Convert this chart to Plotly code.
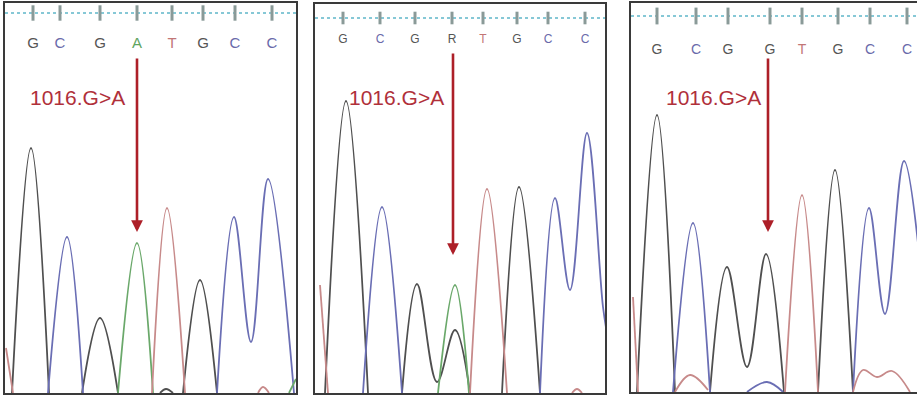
import plotly.graph_objects as go

W, H = 917, 397

# ---------------- data (scan position, signal) ----------------
# Panel 1 : homozygous reference shows A
p1_bases = ["G", "C", "G", "A", "T", "G", "C", "C"]
p1_base_pos = [28, 55, 95, 132, 167, 198, 230, 267]
p1_G_x = [7, 26, 44, None, 77, 95, 113, None, 178, 195, 212, None, 155, 161, 168]
p1_G_y = [0, 245, 0, None, 0, 75, 0, None, 0, 113, 0, None, 0, 4, 0]
p1_C_x = [43, 62, 78, None, 212, 229, 246, 263, 289]
p1_C_y = [0, 156, 0, None, 0, 176, 51, 214, 0]
p1_A_x = [113, 132, 148, None, 284, 291]
p1_A_y = [0, 150, 0, None, 0, 14]
p1_T_x = [1, 8, None, 147, 162, 180, None, 253, 258, 264]
p1_T_y = [45, 0, None, 0, 185, 0, None, 0, 6, 0]

# Panel 2 : heterozygous (R)
p2_bases = ["G", "C", "G", "R", "T", "G", "C", "C"]
p2_base_pos = [28, 65, 100, 137, 168, 202, 233, 270]
p2_G_x = [10, 31, 53, None, 87, 102, 122, 140, 155, None, 187, 204, 225]
p2_G_y = [0, 292, 0, None, 0, 109, 11, 63, 0, None, 0, 206, 0]
p2_C_x = [48, 67, 87, None, 225, 240, 255, 272, 288, 292]
p2_C_y = [0, 186, 0, None, 0, 195, 103, 260, 86, 60]
p2_A_x = [123, 140, 154]
p2_A_y = [0, 108, 0]
p2_T_x = [5, 13, None, 155, 172, 192, None, 257, 262, 267]
p2_T_y = [108, 0, None, 0, 204, 0, None, 0, 4, 0]

# Panel 3 : homozygous G
p3_bases = ["G", "C", "G", "G", "T", "G", "C", "C"]
p3_base_pos = [26, 65, 97, 139, 171, 207, 239, 276]
p3_G_x = [6, 26, 44, None, 79, 96, 116, 135, 153, None, 187, 204, 222]
p3_G_y = [0, 277, 0, None, 0, 125, 25, 138, 0, None, 0, 222, 0]
p3_C_x = [42, 62, 79, None, 222, 238, 254, 273, 290, None, 116, 136, 152]
p3_C_y = [0, 169, 0, None, 0, 184, 78, 231, 120, None, 0, 10, 0]
p3_T_x = [2, 7, None, 154, 171, 187, None, 44, 59, 77, None, 222, 232, 246, 261, 279]
p3_T_y = [95, 0, None, 0, 197, 0, None, 0, 17, 2, None, 0, 22, 15, 21, 0]

mutation_label = "1016.G>A"
mut_pos = [132, 138, 137]

# ---------------- styling ----------------
DYE = {"G": "#4f4f4f", "C": "#6a6eb4", "A": "#6aa86a", "T": "#c78a8a"}
LETTER = {"G": "#555555", "C": "#6a6aaa", "A": "#5fa55f", "T": "#c27676", "R": "#555555"}

# panel frames in pixels: left, right, top, bottom
frames = [(5, 296, 3, 393), (315, 605, 4, 393), (631, 917, 3, 392)]
letter_row = [44, 40, 50]
dot_row = [13, 18, 16]
tick_size = [11, 9, 12]
letter_size = [15, 12, 14]
arrow_top = [57, 52, 57]
arrow_tip = [232, 255, 232]
label_y = [97, 97, 97]
label_cx = [72, 81, 82]

panels = [
    dict(bases=p1_bases, pos=p1_base_pos,
         traces=[("G", p1_G_x, p1_G_y), ("C", p1_C_x, p1_C_y), ("A", p1_A_x, p1_A_y), ("T", p1_T_x, p1_T_y)]),
    dict(bases=p2_bases, pos=p2_base_pos,
         traces=[("G", p2_G_x, p2_G_y), ("C", p2_C_x, p2_C_y), ("A", p2_A_x, p2_A_y), ("T", p2_T_x, p2_T_y)]),
    dict(bases=p3_bases, pos=p3_base_pos,
         traces=[("G", p3_G_x, p3_G_y), ("C", p3_C_x, p3_C_y), ("T", p3_T_x, p3_T_y)]),
]

fig = go.Figure()
layout = dict(width=W, height=H, margin=dict(l=0, r=0, t=0, b=0),
              paper_bgcolor="white", plot_bgcolor="white", showlegend=False)
annotations = []

for i, (p, fr) in enumerate(zip(panels, frames)):
    L, R, T, B = fr
    n = "" if i == 0 else str(i + 1)
    xa, ya = "x" + n, "y" + n
    hgt = B - T
    # traces
    for dye, xs, ys in p["traces"]:
        fig.add_trace(go.Scatter(x=xs, y=ys, mode="lines", xaxis=xa, yaxis=ya,
                                 line=dict(color=DYE[dye], width=1.8, shape="spline", smoothing=1.05),
                                 connectgaps=False, hoverinfo="skip"))
    # dotted scan line
    fig.add_trace(go.Scatter(x=[0, R - L], y=[B - dot_row[i]] * 2, mode="lines", xaxis=xa, yaxis=ya,
                             line=dict(color="#86c8d6", width=2, dash="dot"), hoverinfo="skip"))
    # base tick marks
    fig.add_trace(go.Scatter(x=p["pos"], y=[B - dot_row[i]] * len(p["pos"]), mode="markers",
                             xaxis=xa, yaxis=ya,
                             marker=dict(symbol="line-ns", size=tick_size[i],
                                         line=dict(color="#8a9a98", width=3)), hoverinfo="skip"))
    # base letters
    fig.add_trace(go.Scatter(x=p["pos"], y=[B - letter_row[i]] * len(p["pos"]), mode="text",
                             text=p["bases"], xaxis=xa, yaxis=ya,
                             textfont=dict(family="Liberation Sans", size=letter_size[i],
                                           color=[LETTER[b] for b in p["bases"]]),
                             hoverinfo="skip"))
    # arrow
    annotations.append(dict(x=mut_pos[i], y=B - arrow_tip[i], ax=mut_pos[i], ay=B - arrow_top[i],
                            xref=xa, yref=ya, axref=xa, ayref=ya, text="", showarrow=True,
                            arrowhead=2, arrowsize=0.9, arrowwidth=2.6, arrowcolor="#ad1f28"))
    annotations.append(dict(x=label_cx[i], y=B - label_y[i], xref=xa, yref=ya, text=mutation_label,
                            showarrow=False,
                            font=dict(family="Liberation Sans", size=21, color="#b0303a")))
    axkey = "xaxis" + n
    aykey = "yaxis" + n
    layout[axkey] = dict(domain=[L / W, min(R / W, 1)], range=[0, R - L], anchor=ya,
                         showgrid=False, zeroline=False, showticklabels=False, ticks="",
                         showline=True, linecolor="#3a3a3a", linewidth=2, mirror=True,
                         fixedrange=True)
    layout[aykey] = dict(domain=[1 - B / H, 1 - T / H], range=[0, hgt], anchor=xa,
                         showgrid=False, zeroline=False, showticklabels=False, ticks="",
                         showline=True, linecolor="#3a3a3a", linewidth=2, mirror=(i < 2),
                         fixedrange=True)

layout["annotations"] = annotations
fig.update_layout(**layout)
fig.write_html("out.html")
